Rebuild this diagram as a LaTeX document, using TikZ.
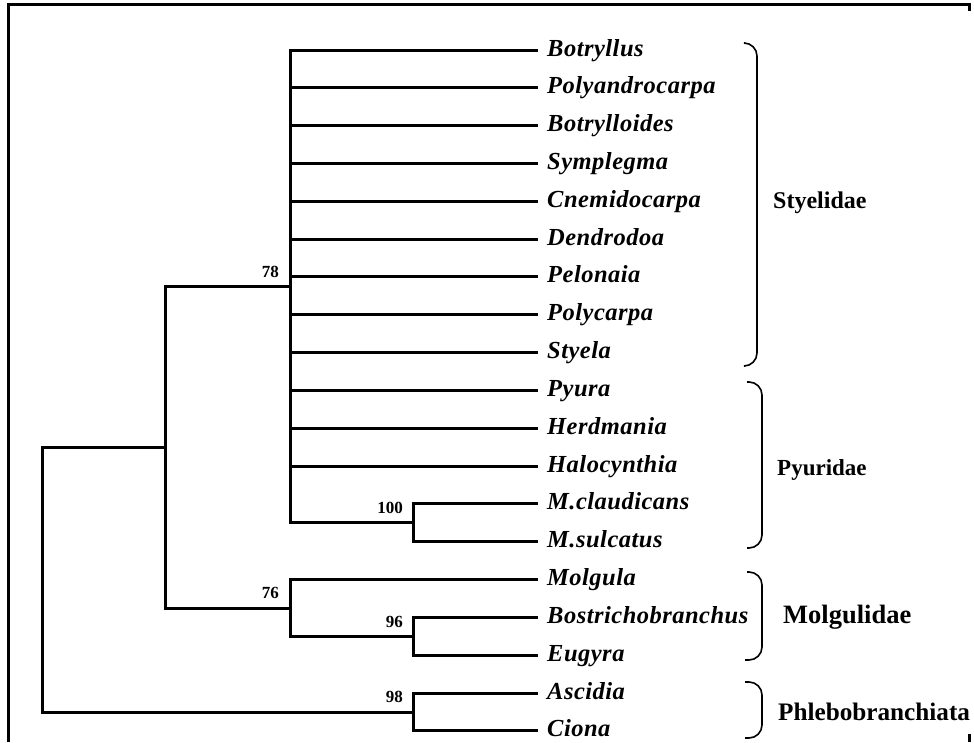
\documentclass[tikz,border=0pt]{standalone}
\usepackage{fontspec}
\setmainfont{Liberation Serif}
\newfontfamily\leaffont[LetterSpace=2]{Liberation Serif}
\begin{document}
\begin{tikzpicture}[x=1pt,y=-1pt,
  branch/.style={line width=3pt, line join=miter},
  brace/.style={line width=1.6pt, rounded corners=13pt},
  frame/.style={line width=3pt},
  leaf/.style={anchor=base west, inner sep=0pt, font=\leaffont\bfseries\itshape\fontsize{24.5}{28}\selectfont},
  boot/.style={anchor=south east, inner sep=0pt, font=\bfseries\fontsize{17}{19}\selectfont},
  fam/.style={anchor=base west, inner sep=0pt}]
\useasboundingbox (0,0) rectangle (974,742);
% frame
\draw[frame] (8,742) -- (8,4) -- (969,4) -- (969,11);
\draw[frame] (969,734) -- (969,742);
% leaves
\foreach \nm [count=\i] in {Botryllus,Polyandrocarpa,Botrylloides,Symplegma,Cnemidocarpa,Dendrodoa,Pelonaia,Polycarpa,Styela,Pyura,Herdmania,Halocynthia,M.claudicans,M.sulcatus,Molgula,Bostrichobranchus,Eugyra,Ascidia,Ciona}{
  \coordinate (l\i) at (538,{50+37.83*(\i-1)});
  \node[leaf] (t\i) at ([xshift=9pt,yshift=-6pt]l\i) {\nm};
}
% internal nodes
\coordinate (n100) at (413,522.9);
\coordinate (n78) at (290,286.4);
\coordinate (n96) at (413,636.4);
\coordinate (n76) at (290,608);
\coordinate (nA) at (165,447.2);
\coordinate (n98) at (413,712);
\coordinate (root) at (42,579.6);
% edges
\foreach \i in {1,...,12}{\draw[branch] (n78) |- (l\i);}
\draw[branch] (n78) |- (n100);
\draw[branch] (n100) |- (l13);
\draw[branch] (n100) |- (l14);
\draw[branch] (n76) |- (l15);
\draw[branch] (n76) |- (n96);
\draw[branch] (n96) |- (l16);
\draw[branch] (n96) |- (l17);
\draw[branch] (nA) |- (n78);
\draw[branch] (nA) |- (n76);
\draw[branch] (root) |- (nA);
\draw[branch] (root) |- (n98);
\draw[branch] (n98) |- (l18);
\draw[branch] (n98) |- (l19);
% bootstrap values
\node[boot] (b78) at ([xshift=-11pt,yshift=9pt]n78) {78};
\node[boot] (b100) at ([xshift=-10pt,yshift=9pt]n100) {100};
\node[boot] (b76) at ([xshift=-11pt,yshift=9pt]n76) {76};
\node[boot] (b96) at ([xshift=-10pt,yshift=9pt]n96) {96};
\node[boot] (b98) at ([xshift=-10pt,yshift=9pt]n98) {98};
% brackets
\draw[brace] (745,43) -- (757,43) -- (757,366) -- (745,366);
\draw[brace] (747,382) -- (762,382) -- (762,548) -- (747,548);
\draw[brace] (747,572) -- (762,572) -- (762,660) -- (745,660);
\draw[brace] (745,682) -- (762,682) -- (762,738) -- (745,738);
% family labels
\node[fam, font=\bfseries\fontsize{24}{27}\selectfont] (f1) at (773,208) {Styelidae};
\node[fam, font=\bfseries\fontsize{23}{26}\selectfont] (f2) at (777,475) {Pyuridae};
\node[fam, font=\bfseries\fontsize{26.5}{30}\selectfont] (f3) at (783,623) {Molgulidae};
\node[fam, font=\bfseries\fontsize{25.2}{29}\selectfont] (f4) at (778,720) {Phlebobranchiata};
\end{tikzpicture}
\end{document}
